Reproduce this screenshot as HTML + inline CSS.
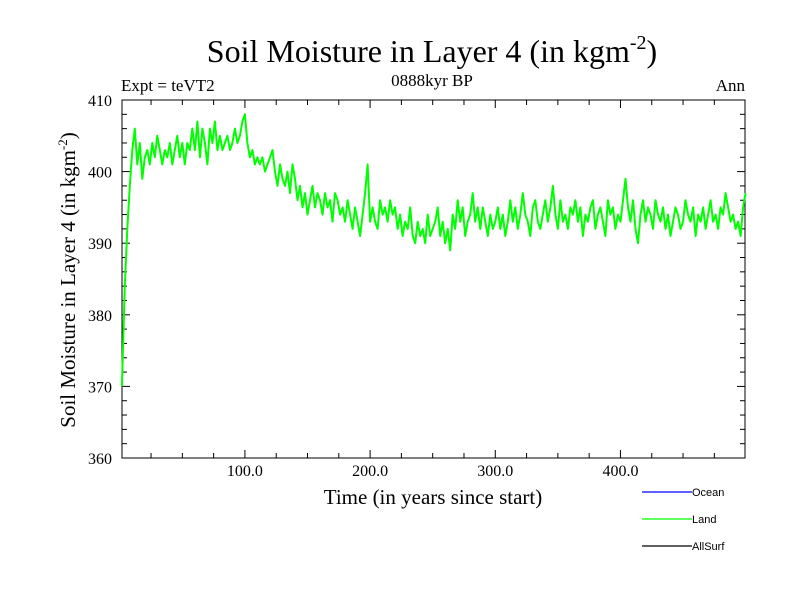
<!DOCTYPE html>
<html><head><meta charset="utf-8"><style>
body{margin:0;background:#fff;width:800px;height:600px;overflow:hidden}
text{font-family:"Liberation Serif",serif;fill:#000}
text.sans{font-family:"Liberation Sans",sans-serif}
</style></head><body>
<svg id="chart" width="800" height="600" xmlns="http://www.w3.org/2000/svg">
<text x="432" y="62" font-size="32" text-anchor="middle">Soil Moisture in Layer 4 (in kgm<tspan font-size="20" dy="-13">-2</tspan><tspan dy="13">)</tspan></text>
<text x="432" y="86" font-size="17" text-anchor="middle">0888kyr BP</text>
<text x="121" y="91" font-size="17">Expt = teVT2</text>
<text x="745" y="91" font-size="17" text-anchor="end">Ann</text>
<text transform="translate(75,280) rotate(-90)" font-size="21" text-anchor="middle">Soil Moisture in Layer 4 (in kgm<tspan font-size="13" dy="-8">-2</tspan><tspan dy="8">)</tspan></text>
<text x="433" y="504" font-size="21" text-anchor="middle">Time (in years since start)</text>
<g id="axes"></g>
<polyline id="land-line" fill="none" stroke="#00ff00" stroke-width="2" stroke-linejoin="round"/>
<g>
<line x1="642" y1="492" x2="692" y2="492" stroke="#0000ff" stroke-width="1.3"/>
<text class="sans" x="692" y="496" font-size="11">Ocean</text>
<line x1="642" y1="519" x2="692" y2="519" stroke="#00ff00" stroke-width="1.3"/>
<text class="sans" x="692" y="523" font-size="11">Land</text>
<line x1="642" y1="546" x2="692" y2="546" stroke="#000" stroke-width="1.3"/>
<text class="sans" x="692" y="550" font-size="11">AllSurf</text>
</g>
</svg>
<script>
const years=[];for(let i=1;i<=250;i++)years.push(i*2);
const landValues=[372,384,392,398,403,406,401,404,399,402,
403,401,404,402,405,403,401,403,402,404,
401,403,405,402,404,401,404,403,406,403,
407,402,406,404,401,406,404,407,403,405,
403,404,405,403,404,406,404,405,407,408,
404,402,403,401,402,401,402,400,401,402,
403,400,398,401,399,398,400,397,401,399,
396,398,395,397,394,396,398,395,397,396,
394,397,395,396,393,397,396,394,395,393,
396,394,392,395,393,391,394,397,401,393,
395,393,392,396,394,395,393,396,394,395,
392,394,391,393,392,395,391,390,393,391,
392,390,394,391,392,393,395,391,393,390,
392,389,394,392,396,393,395,391,393,394,
397,393,395,392,395,393,391,394,392,393,
395,392,394,391,393,396,393,395,392,394,
397,394,393,391,395,396,393,392,394,396,
393,395,398,394,392,396,393,394,392,395,
394,396,393,395,391,394,393,395,396,392,
394,395,393,391,396,394,395,392,394,393,
396,399,395,393,396,392,390,394,396,393,
395,394,392,396,394,393,395,392,394,391,
393,395,394,392,393,396,394,393,395,391,
394,393,395,392,394,396,393,394,392,395,
394,397,395,393,394,392,393,391,395,397];
const xTicks=[100,200,300,400];
const xTickLabels=["100.0","200.0","300.0","400.0"];
const yTicks=[360,370,380,390,400,410];
const L=122,R=745,T=100,B=458,X0=1.8,X1=499.5,Y0=360,Y1=410;
const sx=v=>L+(v-X0)/(X1-X0)*(R-L);
const sy=v=>B-(v-Y0)/(Y1-Y0)*(B-T);
const ns="http://www.w3.org/2000/svg";
const ax=document.getElementById('axes');
function mk(tag,attrs){const e=document.createElementNS(ns,tag);for(const k in attrs)e.setAttribute(k,attrs[k]);ax.appendChild(e);return e;}
const box=mk('rect',{x:L,y:T,width:R-L,height:B-T,fill:'none',stroke:'#000','stroke-width':1});


for(let v=25;v<X1;v+=25){const major=v%100===0;const len=major?8:5;const x=sx(v);
const t1=mk('line',{x1:x,y1:B,x2:x,y2:B-len,stroke:'#000'});


const t2=mk('line',{x1:x,y1:T,x2:x,y2:T+len,stroke:'#000'});

}
xTicks.forEach((v,i)=>{const t=mk('text',{x:sx(v),y:476,'font-size':16,'text-anchor':'middle'});t.textContent=xTickLabels[i];

});
for(let v=Y0;v<=Y1;v+=2){const major=v%10===0;const len=major?8:5;const y=sy(v);
const a=mk('line',{x1:L,y1:y,x2:L+len,y2:y,stroke:'#000'});


const b=mk('line',{x1:R,y1:y,x2:R-len,y2:y,stroke:'#000'});

}
yTicks.forEach(v=>{const t=mk('text',{x:112,y:sy(v)+6,'font-size':16,'text-anchor':'end'});t.textContent=v;

});
document.getElementById('land-line').setAttribute('points',[[X0,370]].concat(years.map((y,i)=>[y,landValues[i]])).map(p=>sx(p[0]).toFixed(1)+','+sy(p[1]).toFixed(1)).join(' '));
</script>
</body></html>
